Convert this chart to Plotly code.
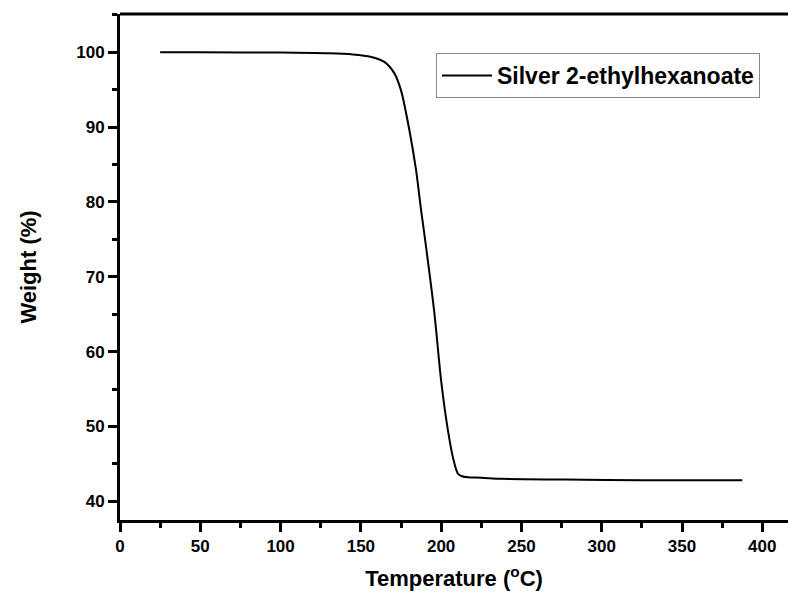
import plotly.graph_objects as go

temperature = [25, 50, 100, 130, 145, 156, 164.6, 170.8, 175, 180.2, 184.4, 187.5,
               190.6, 195.8, 200, 204.2, 207.3, 210.4, 213, 216.7, 225, 237.5, 277, 325, 387.5]
weight = [100.0, 99.98, 99.95, 99.85, 99.7, 99.4, 98.7, 97.2, 94.9, 89.6, 84.2, 78.9,
          74.0, 65.1, 56.1, 49.5, 45.9, 43.7, 43.35, 43.2, 43.15, 43.0, 42.9, 42.8, 42.8]
series_name = "Silver 2-ethylhexanoate"
x_ticks = [0, 50, 100, 150, 200, 250, 300, 350, 400]
y_ticks = [40, 50, 60, 70, 80, 90, 100]

FONT = "Liberation Sans, Arial, sans-serif"

fig = go.Figure()
fig.add_trace(go.Scatter(
    x=temperature, y=weight, mode="lines", name=series_name,
    line=dict(color="black", width=2, shape="spline", smoothing=0.8),
))

axis_common = dict(
    showline=True, linecolor="black", linewidth=3, mirror=False,
    ticks="outside", ticklen=9, tickwidth=3, tickcolor="black",
    showgrid=False, zeroline=False,
    tickfont=dict(family=FONT, size=17, color="black", weight="bold"),
    title_font=dict(family=FONT, size=22, color="black", weight="bold"),
)

fig.update_xaxes(
    range=[0, 416], tickvals=x_ticks,
    minor=dict(ticks="outside", ticklen=5, tickwidth=3, tickcolor="black", dtick=25, tick0=0),
    title_text="Temperature (<sup>o</sup>C)", title_standoff=16,
    **axis_common,
)
fig.update_yaxes(
    range=[37.5, 105.1], tickvals=y_ticks,
    minor=dict(ticks="outside", ticklen=5, tickwidth=3, tickcolor="black", dtick=5, tick0=0),
    title_text="Weight (%)", title_standoff=34,
    **axis_common,
)

fig.add_shape(type="line", xref="paper", yref="paper", x0=0, x1=1, y0=1, y1=1,
              line=dict(color="black", width=3))

fig.update_layout(
    width=788, height=603,
    margin=dict(l=120, r=0, t=14, b=83),
    plot_bgcolor="white", paper_bgcolor="white",
    showlegend=True,
    legend=dict(
        x=0.473, y=0.923, xanchor="left", yanchor="top",
        bordercolor="#888888", borderwidth=1, bgcolor="white",
        font=dict(family=FONT, size=23, color="black", weight="bold"),
        itemwidth=50, tracegroupgap=0,
    ),
)

fig.write_html("out.html")
